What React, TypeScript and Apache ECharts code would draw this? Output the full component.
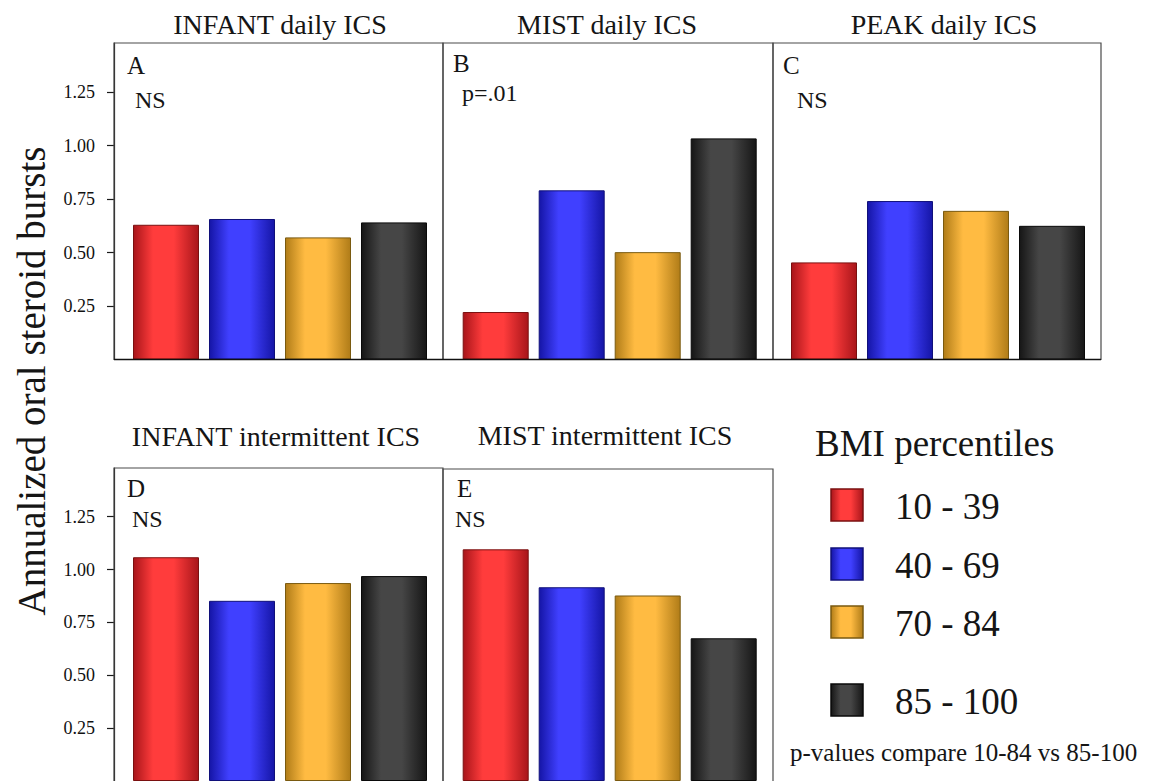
import React, { useEffect, useRef } from "react";
import * as echarts from "echarts";

// ---- data ----
const groups = ["10 - 39", "40 - 69", "70 - 84", "85 - 100"];
const panelTitles = [
  "INFANT daily ICS",
  "MIST daily ICS",
  "PEAK daily ICS",
  "INFANT intermittent ICS",
  "MIST intermittent ICS",
];
const panelLetters = ["A", "B", "C", "D", "E"];
const panelPValues = ["NS", "p=.01", "NS", "NS", "NS"];
const infantDaily = [0.63, 0.657, 0.571, 0.641];
const mistDaily = [0.222, 0.791, 0.502, 1.034];
const peakDaily = [0.454, 0.741, 0.695, 0.625];
const infantIntermittent = [1.058, 0.852, 0.936, 0.969];
const mistIntermittent = [1.099, 0.919, 0.88, 0.677];
const panelValues = [infantDaily, mistDaily, peakDaily, infantIntermittent, mistIntermittent];
const yTicks = [0.25, 0.5, 0.75, 1.0, 1.25];
const yMax = 1.48;
const yAxisTitle = "Annualized oral steroid bursts";
const legendTitle = "BMI percentiles";
const footnote = "p-values compare 10-84 vs 85-100";

// ---- style ----
const FONT = "Liberation Serif";
const groupColors = [
  { dark: "#a8151a", light: "#ff3c3c", border: "#7a1010" },
  { dark: "#1515a6", light: "#4040ff", border: "#10107a" },
  { dark: "#b07c18", light: "#ffbb42", border: "#7a5a10" },
  { dark: "#161616", light: "#464646", border: "#0a0a0a" },
];

const grad = (c: { dark: string; light: string }) =>
  new echarts.graphic.LinearGradient(0, 0, 1, 0, [
    { offset: 0, color: c.dark },
    { offset: 0.3, color: c.light },
    { offset: 0.62, color: c.light },
    { offset: 1, color: c.dark },
  ]);

// panel layout (pixels)
const panels = [
  { left: 114, right: 443, top: 43, bottom: 359.5, gridLeft: 128, axis: true },
  { left: 443, right: 773, top: 43, bottom: 359.5, gridLeft: 457.7, axis: false },
  { left: 773, right: 1101, top: 43, bottom: 359.5, gridLeft: 786, axis: false },
  { left: 114, right: 443, top: 468, bottom: 784, gridLeft: 128, axis: true },
  { left: 443, right: 773, top: 469, bottom: 784, gridLeft: 457.7, axis: false },
];
const titlePos = [
  [280, 24],
  [607, 24],
  [944, 24],
  [276, 436],
  [605, 435],
];
const letterPos = [
  [127, 65],
  [453, 63],
  [783, 65],
  [127, 488],
  [457, 488],
];
const pPos = [
  [135, 100],
  [462, 93],
  [797, 100],
  [132, 519],
  [455, 519],
];

const txt = (
  text: string,
  x: number,
  y: number,
  fontSize: number,
  align: string,
  extra: any = {}
) => ({
  type: "text",
  x,
  y,
  ...extra,
  style: {
    text,
    fontSize,
    fontFamily: FONT,
    fill: "#151515",
    align,
    verticalAlign: "middle",
    textAlign: align,
    textVerticalAlign: "middle",
  },
});

export default function App() {
  const ref = useRef<HTMLDivElement>(null);
  useEffect(() => {
    document.body.style.margin = "0";
    const chart = echarts.init(ref.current!, null, { renderer: "svg" });

    const grids: any[] = [];
    const xAxes: any[] = [];
    const yAxes: any[] = [];
    const series: any[] = [];
    const graphics: any[] = [];

    panels.forEach((p, i) => {
      grids.push({
        left: p.gridLeft,
        top: p.top,
        width: 304,
        height: p.bottom - p.top,
        containLabel: false,
      });
      xAxes.push({
        gridIndex: i,
        type: "category",
        data: groups,
        show: false,
      });
      yAxes.push({
        gridIndex: i,
        type: "value",
        min: 0,
        max: yMax,
        interval: 0.25,
        show: p.axis,
        offset: p.gridLeft - p.left,
        axisLine: { show: true, lineStyle: { color: "#1a1a1a", width: 1.2 } },
        axisTick: {
          show: true,
          length: 7,
          customValues: yTicks,
          lineStyle: { color: "#1a1a1a", width: 1.2 },
        },
        axisLabel: {
          customValues: yTicks,
          formatter: (v: number) => v.toFixed(2),
          fontSize: 18,
          fontFamily: FONT,
          color: "#111",
          margin: 19,
        },
        splitLine: { show: false },
      });
      series.push({
        type: "bar",
        xAxisIndex: i,
        yAxisIndex: i,
        barWidth: 66,
        data: panelValues[i].map((v, k) => ({
          value: v,
          itemStyle: {
            color: grad(groupColors[k]),
            borderColor: groupColors[k].border,
            borderWidth: 1,
          },
        })),
      });
      // frame
      graphics.push({
        type: "rect",
        shape: { x: p.left, y: p.top, width: p.right - p.left, height: p.bottom - p.top },
        style: { fill: "none", stroke: "#4a4a4a", lineWidth: 1.2 },
        z: 1,
      });
      graphics.push(txt(panelTitles[i], titlePos[i][0], titlePos[i][1], 28, "center"));
      graphics.push(txt(panelLetters[i], letterPos[i][0], letterPos[i][1], 25, "left"));
      graphics.push(txt(panelPValues[i], pPos[i][0], pPos[i][1], 24, "left"));
    });

    // top row baseline
    graphics.push({
      type: "line",
      shape: { x1: 114, y1: 359.5, x2: 1101, y2: 359.5 },
      style: { stroke: "#111", lineWidth: 1.6 },
      z: 5,
    });

    // y axis title
    graphics.push(txt(yAxisTitle, 31, 381, 39, "center", { rotation: Math.PI / 2 }));

    // legend
    graphics.push(txt(legendTitle, 815, 443, 37, "left"));
    const legendY = [505, 564, 622, 700];
    groups.forEach((g, k) => {
      graphics.push({
        type: "rect",
        shape: { x: 831, y: legendY[k] - 16, width: 32, height: 32 },
        style: {
          fill: grad(groupColors[k]),
          stroke: groupColors[k].border,
          lineWidth: 1.5,
        },
      });
      graphics.push(txt(g, 895, legendY[k] + 1, 37, "left"));
    });
    graphics.push(txt(footnote, 790, 752, 25, "left"));

    chart.setOption({
      animation: false,
      backgroundColor: "#ffffff",
      grid: grids,
      xAxis: xAxes,
      yAxis: yAxes,
      series,
      graphic: { elements: graphics },
    });
    return () => chart.dispose();
  }, []);
  return (
    <div
      ref={ref}
      style={{ position: "fixed", left: 0, top: 0, width: 1166, height: 781 }}
    />
  );
}
